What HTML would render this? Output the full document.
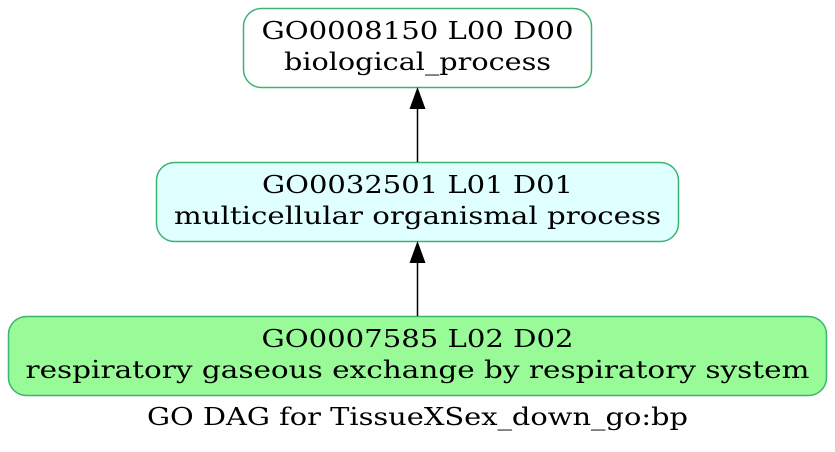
<!DOCTYPE html>
<html><head><meta charset="utf-8"><style>
html,body{margin:0;padding:0;background:#fff;}
svg{display:block;}
</style></head><body>
<svg width="835" height="452" viewBox="0 0 835 452" xmlns="http://www.w3.org/2000/svg" font-family="DejaVu Serif, Liberation Serif, serif" font-size="24">
<rect x="243.5" y="8.5" width="348" height="79" rx="18" ry="18" fill="#ffffff" stroke="#3cb371" stroke-width="1.5"/>
<text x="417.5" y="39" text-anchor="middle" textLength="312" lengthAdjust="spacingAndGlyphs">GO0008150 L00 D00</text>
<text x="417.5" y="70" text-anchor="middle" textLength="267" lengthAdjust="spacingAndGlyphs">biological_process</text>

<rect x="156.5" y="162.5" width="522" height="79" rx="18" ry="18" fill="#e0ffff" stroke="#3cb371" stroke-width="1.5"/>
<text x="417.5" y="193" text-anchor="middle" textLength="311" lengthAdjust="spacingAndGlyphs">GO0032501 L01 D01</text>
<text x="417.5" y="224" text-anchor="middle" textLength="487" lengthAdjust="spacingAndGlyphs">multicellular organismal process</text>

<rect x="8.5" y="316.5" width="818" height="79" rx="18" ry="18" fill="#98fb98" stroke="#3cb371" stroke-width="1.5"/>
<text x="417.5" y="347" text-anchor="middle" textLength="312" lengthAdjust="spacingAndGlyphs">GO0007585 L02 D02</text>
<text x="417.5" y="378" text-anchor="middle" textLength="784" lengthAdjust="spacingAndGlyphs">respiratory gaseous exchange by respiratory system</text>

<line x1="417.5" y1="162" x2="417.5" y2="108" stroke="#000" stroke-width="1.5"/>
<polygon points="417.5,87 409.5,109 425.5,109" fill="#000"/>
<line x1="417.5" y1="316" x2="417.5" y2="262" stroke="#000" stroke-width="1.5"/>
<polygon points="417.5,241 409.5,263 425.5,263" fill="#000"/>

<text x="417.5" y="425" text-anchor="middle" textLength="541" lengthAdjust="spacingAndGlyphs">GO DAG for TissueXSex_down_go:bp</text>
</svg>
</body></html>
